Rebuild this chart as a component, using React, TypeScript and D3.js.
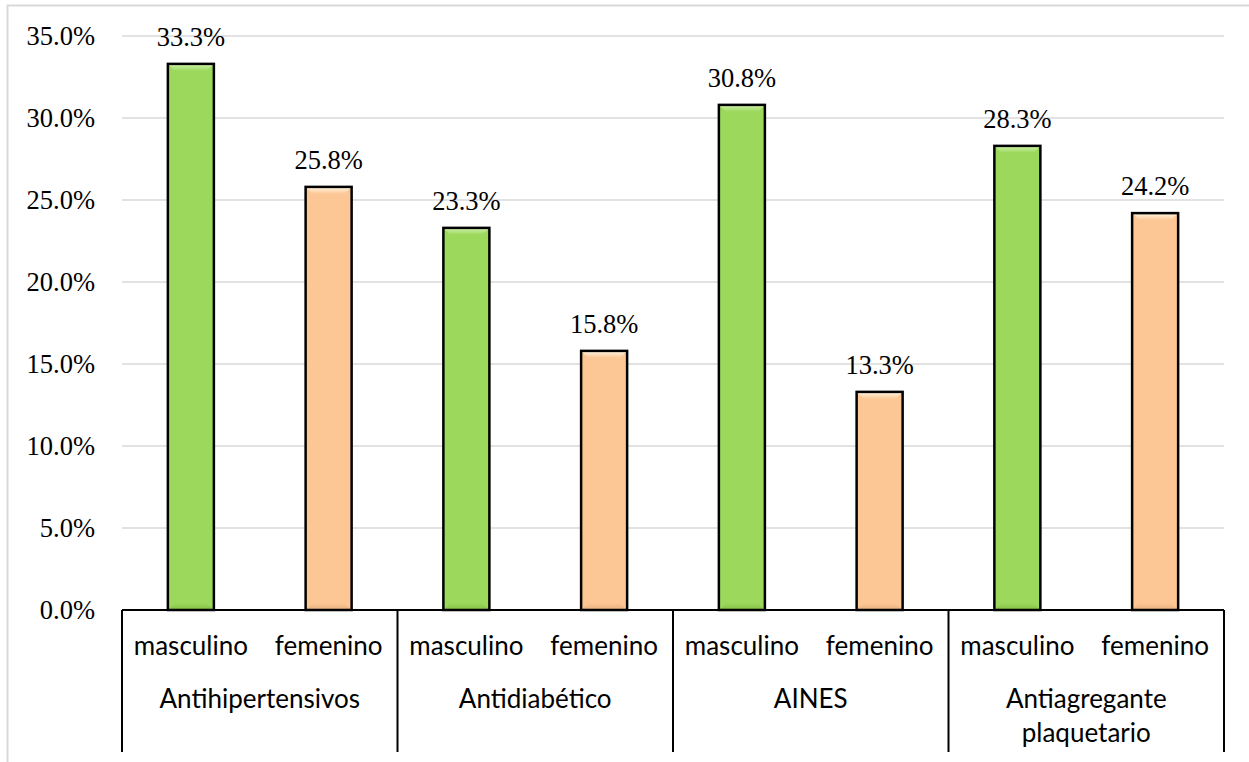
import React from "react";
import * as d3 from "d3";

// Drug groups, the two sexes and the share of each (in %)
const groups = ["Antihipertensivos", "Antidiabético", "AINES", "Antiagregante plaquetario"];
const groupLines = [["Antihipertensivos"], ["Antidiabético"], ["AINES"], ["Antiagregante", "plaquetario"]];
const sexes = ["masculino", "femenino"];
const masculino = [33.3, 23.3, 30.8, 28.3];
const femenino = [25.8, 15.8, 13.3, 24.2];
const yTicks = [0, 5, 10, 15, 20, 25, 30, 35];

const W = 1249;
const H = 762;
const plot = { left: 122, right: 1224, top: 36, bottom: 610 };

const fills: Record<string, { base: string; light: string; dark: string }> = {
  masculino: { base: "#9bd85b", light: "#d2f2ae", dark: "#84c048" },
  femenino: { base: "#fcc794", light: "#fff6e4", dark: "#e8b07d" },
};

const serif = "'Liberation Serif', 'Times New Roman', serif";
const sans = "Lato, 'Open Sans', sans-serif";

export default function App() {
  const x0 = d3.scaleBand<string>().domain(groups).range([plot.left, plot.right]).padding(0);
  const x1 = d3
    .scaleBand<string>()
    .domain(sexes)
    .range([0, x0.bandwidth()])
    .paddingInner(0.666)
    .paddingOuter(0.333);
  const y = d3.scaleLinear().domain([0, 35]).range([plot.bottom, plot.top]);
  const fmt = (v: number) => d3.format(".1f")(v) + "%";

  const bars = groups.flatMap((g, i) =>
    sexes.map((s) => ({
      group: g,
      sex: s,
      value: s === "masculino" ? masculino[i] : femenino[i],
    }))
  );

  const bw = x1.bandwidth();
  const bevel = 7;

  return (
    <svg
      width={W}
      height={H}
      style={{ position: "absolute", left: 0, top: 0, background: "#fff" }}
    >
      <defs>
        {sexes.map((s) => (
          <React.Fragment key={s}>
            <linearGradient id={`top-${s}`} x1="0" y1="0" x2="0" y2="1">
              <stop offset="0" stopColor={fills[s].light} />
              <stop offset="1" stopColor={fills[s].base} />
            </linearGradient>
            <linearGradient id={`bot-${s}`} x1="0" y1="0" x2="0" y2="1">
              <stop offset="0" stopColor={fills[s].base} />
              <stop offset="1" stopColor={fills[s].dark} />
            </linearGradient>
          </React.Fragment>
        ))}
      </defs>

      {/* chart frame */}
      <rect x={7.5} y={5.5} width={W + 10} height={H + 10} fill="none" stroke="#d9d9d9" strokeWidth={2} />

      {/* gridlines */}
      {yTicks.slice(1).map((t) => (
        <line
          key={t}
          x1={plot.left}
          x2={plot.right}
          y1={y(t)}
          y2={y(t)}
          stroke="#d9d9d9"
          strokeWidth={1.5}
        />
      ))}

      {/* y tick labels */}
      {yTicks.map((t) => (
        <text key={t} x={95} y={y(t) + 9} textAnchor="end" fontFamily={serif} fontSize={26.5} fill="#000">
          {fmt(t)}
        </text>
      ))}

      {/* bars */}
      {bars.map((b) => {
        const bx = (x0(b.group) as number) + (x1(b.sex) as number);
        const by = y(b.value);
        const bh = plot.bottom - by;
        return (
          <g key={b.group + b.sex}>
            <rect x={bx} y={by} width={bw} height={bh} fill={fills[b.sex].base} />
            <polygon
              points={`${bx},${by} ${bx + bw},${by} ${bx + bw - bevel},${by + bevel} ${bx + bevel},${by + bevel}`}
              fill={`url(#top-${b.sex})`}
            />
            <polygon
              points={`${bx},${by + bh} ${bx + bw},${by + bh} ${bx + bw - bevel},${by + bh - bevel} ${bx + bevel},${by + bh - bevel}`}
              fill={`url(#bot-${b.sex})`}
            />
            <rect x={bx} y={by} width={bw} height={bh} fill="none" stroke="#000" strokeWidth={2.5} />
            <text
              x={bx + bw / 2}
              y={by - 18}
              textAnchor="middle"
              fontFamily={serif}
              fontSize={26.5}
              fill="#000"
            >
              {fmt(b.value)}
            </text>
          </g>
        );
      })}

      {/* category axis */}
      <line x1={plot.left} x2={plot.right} y1={plot.bottom} y2={plot.bottom} stroke="#000" strokeWidth={2} />
      {[...groups.map((g) => x0(g) as number), plot.right].map((xv, i) => (
        <line key={i} x1={xv} x2={xv} y1={plot.bottom} y2={752} stroke="#000" strokeWidth={2} />
      ))}
      {bars.map((b) => (
        <text
          key={"l" + b.group + b.sex}
          x={(x0(b.group) as number) + (x1(b.sex) as number) + bw / 2}
          y={655}
          textAnchor="middle"
          fontFamily={sans}
          fontSize={26}
          fill="#000"
        >
          {b.sex}
        </text>
      ))}
      {groups.map((g, i) => (
        <text
          key={"g" + g}
          x={(x0(g) as number) + x0.bandwidth() / 2}
          y={708}
          textAnchor="middle"
          fontFamily={sans}
          fontSize={26}
          fill="#000"
        >
          {groupLines[i].map((ln, j) => (
            <tspan key={j} x={(x0(g) as number) + x0.bandwidth() / 2} dy={j === 0 ? 0 : 34}>
              {ln}
            </tspan>
          ))}
        </text>
      ))}
    </svg>
  );
}
